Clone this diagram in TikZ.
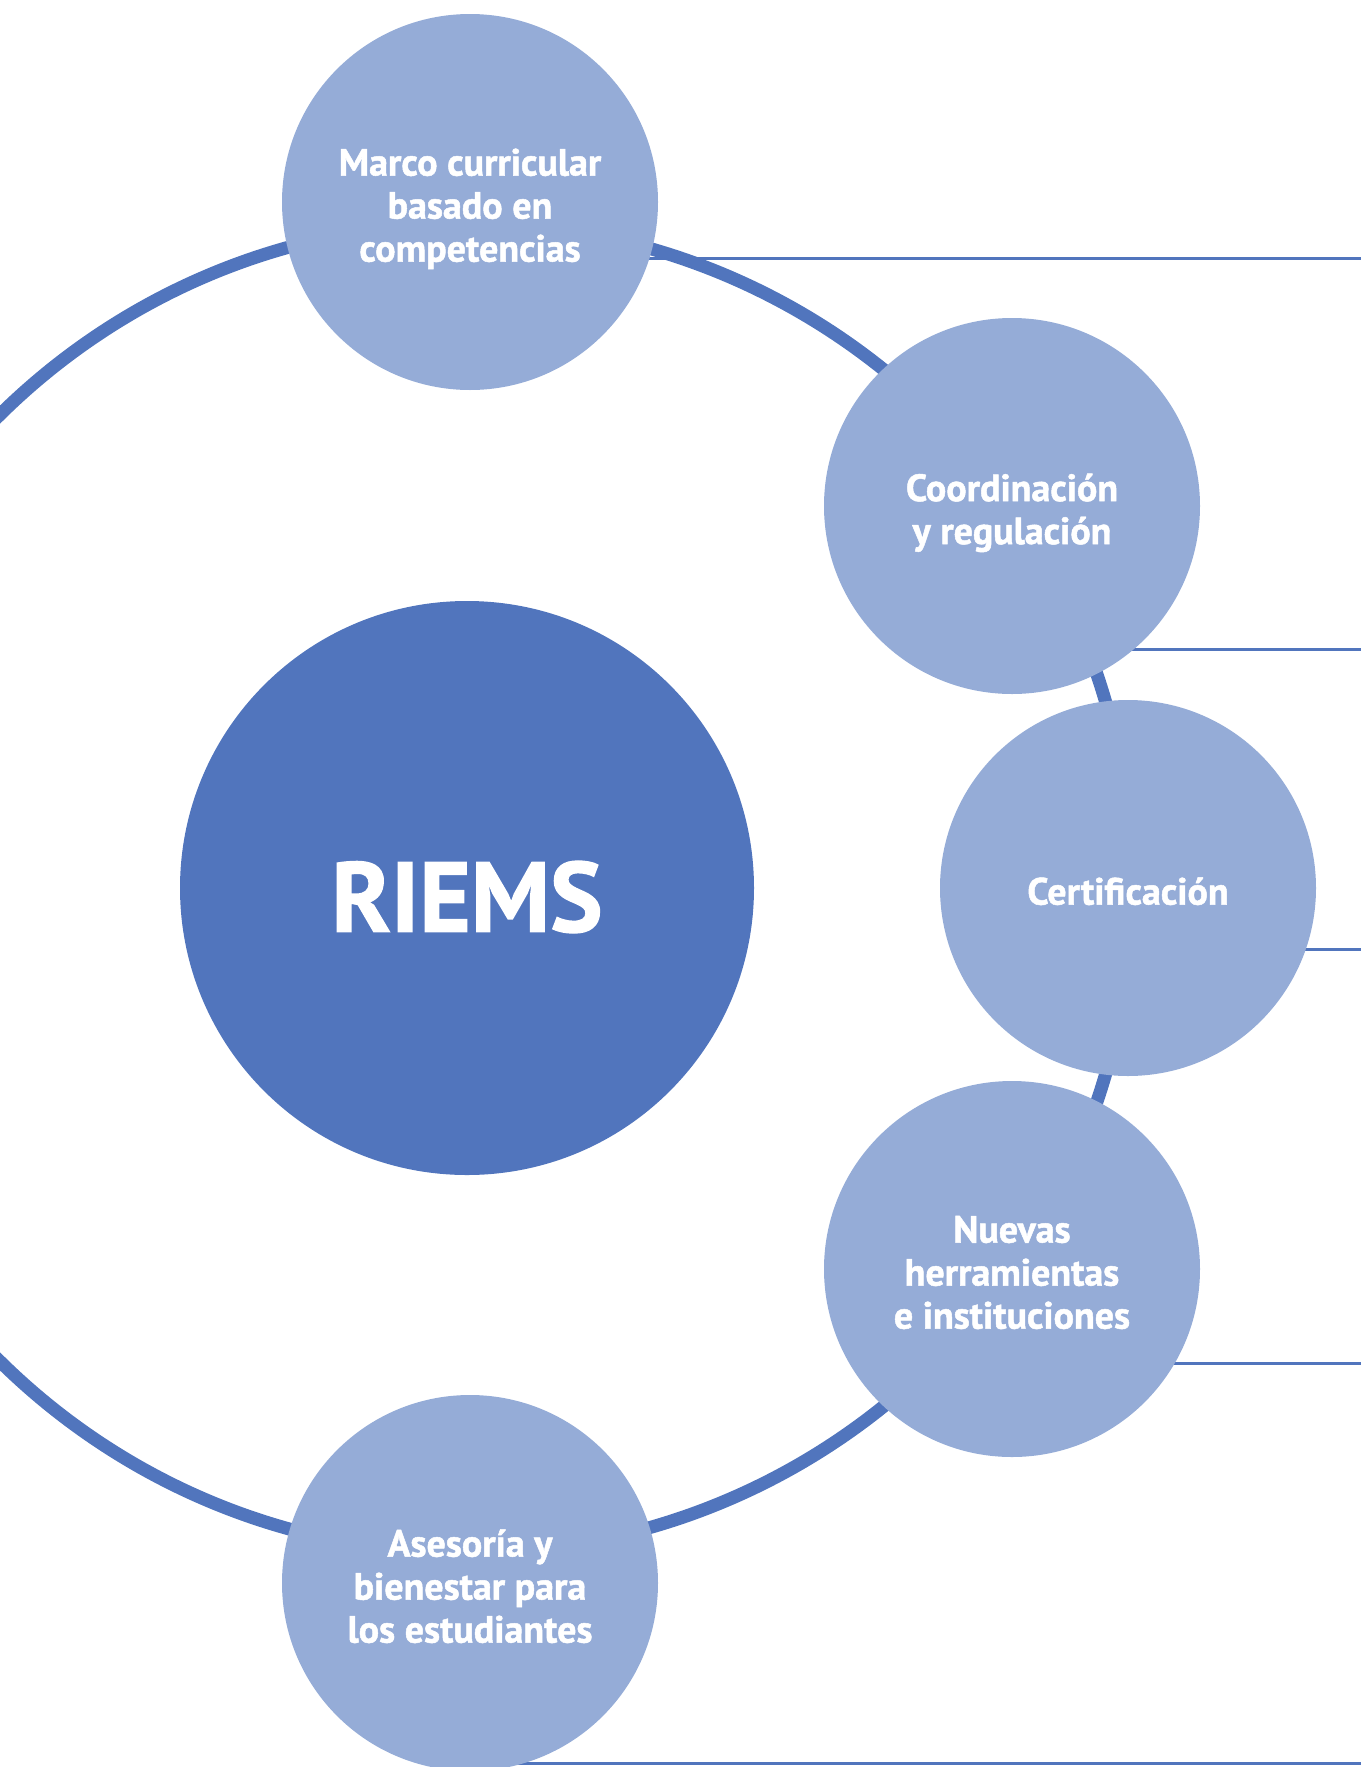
\documentclass[tikz,border=0pt]{standalone}
\usepackage{fontspec}
\setmainfont{PT Sans}[BoldFeatures={FakeBold=1.3}]
\definecolor{ringblue}{HTML}{5175BD}
\definecolor{softblue}{HTML}{95ACD7}
% centred block of lines, drawn a little below the circle's centre
\newcommand{\topictext}[1]{\raisebox{-8pt}[\height][\depth]{\begin{tabular}{@{}c@{}}#1\end{tabular}}}
\begin{document}
\begin{tikzpicture}[x=1pt,y=-1pt,
  topic/.style={circle, fill=softblue, minimum size=376pt, inner sep=0pt,
    text=white, align=center, font=\bfseries\fontsize{38}{43}\selectfont},
  hub/.style={circle, fill=ringblue, minimum size=574pt, inner sep=0pt,
    text=white, font=\bfseries\fontsize{99}{100}\selectfont},
  link/.style={draw=ringblue, line width=3pt},
  orbit/.style={draw=ringblue, line width=13pt}]
\useasboundingbox (0,0) rectangle (1361,1767);
\clip (0,0) rectangle (1361,1767);

% centres of the hub and of the five topics
\coordinate (c)  at (467,888);
\coordinate (p1) at (470,202);
\coordinate (p2) at (1012,506);
\coordinate (p3) at (1128,888);
\coordinate (p4) at (1012,1269);
\coordinate (p5) at (470,1583);

% free ends of the leader lines at the right edge
\coordinate (r1) at (1361,258);
\coordinate (r2) at (1361,649);
\coordinate (r3) at (1361,949);
\coordinate (r4) at (1361,1363);
\coordinate (r5) at (1361,1763);

% leader lines (start hidden under the topic circles)
\draw[link] (p1 |- r1) -- (r1);
\draw[link] (p2 |- r2) -- (r2);
\draw[link] (p3 |- r3) -- (r3);
\draw[link] (p4 |- r4) -- (r4);
\draw[link] (p5 |- r5) -- (r5);

% orbit ring
\draw[orbit] (c) circle[radius=665pt];

% hub
\node[hub] (riems) at (c) {\raisebox{-9pt}[\height][\depth]{RIEMS}};

% topics
\node[topic] (m1) at (p1) {\topictext{Marco curricular\\basado en\\competencias}};
\node[topic] (m2) at (p2) {\topictext{Coordinación\\y regulación}};
\node[topic] (m3) at (p3) {\topictext{Certificación}};
\node[topic] (m4) at (p4) {\topictext{Nuevas\\herramientas\\e instituciones}};
\node[topic] (m5) at (p5) {\topictext{Asesoría y\\bienestar para\\los estudiantes}};
\end{tikzpicture}
\end{document}
